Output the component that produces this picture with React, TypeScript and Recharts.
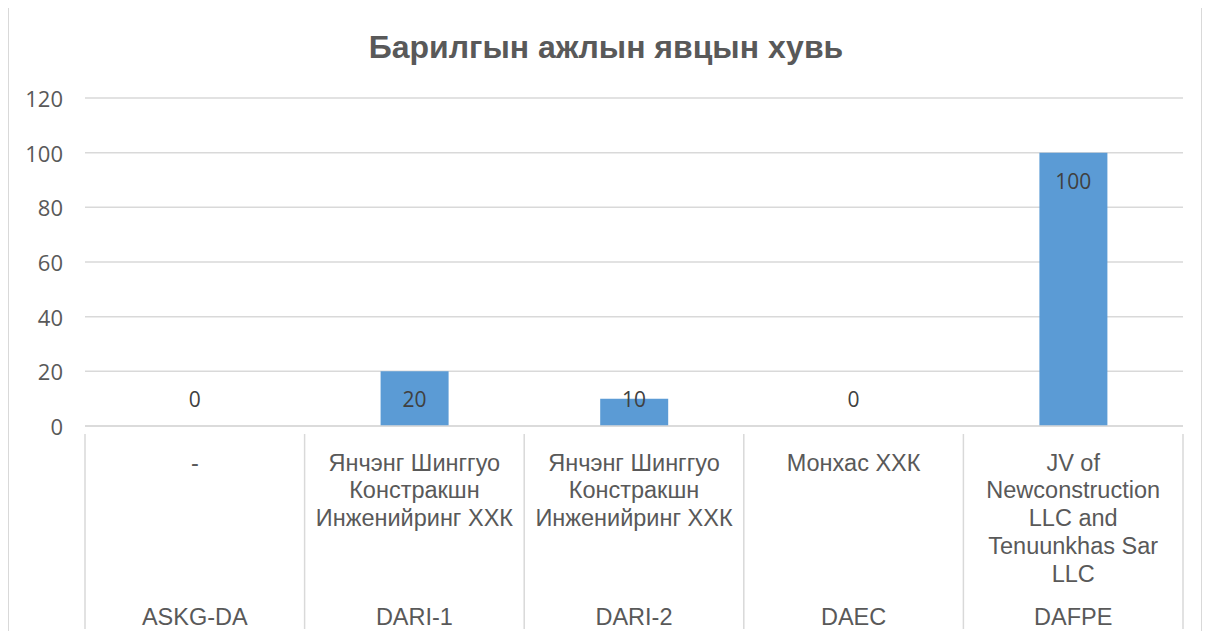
import { ComposedChart, Bar, Line, XAxis, YAxis, CartesianGrid, LabelList } from "recharts";

const codes = ["ASKG-DA", "DARI-1", "DARI-2", "DAEC", "DAFPE"];
const contractors = [
    ["-"],
    ["Янчэнг Шинггуо", "Констракшн", "Инженийринг ХХК"],
    ["Янчэнг Шинггуо", "Констракшн", "Инженийринг ХХК"],
    ["Монхас ХХК"],
    ["JV of", "Newconstruction", "LLC and", "Tenuunkhas Sar", "LLC"],
];
const progress = [0, 20, 10, 0, 100];
const yTicks = [0, 20, 40, 60, 80, 100, 120];

const title = "Барилгын ажлын явцын хувь";

const W = 1194;
const H = 625;
const PLOT_LEFT = 76;
const PLOT_RIGHT = 20;
const PLOT_TOP = 91;
const AXIS_H = 206;
const AXIS_Y = H - AXIS_H;
const BAND = (W - PLOT_LEFT - PLOT_RIGHT) / codes.length;

const data = codes.map((code, i) => ({
    code,
    value: progress[i],
}));

const FONT = "Liberation Sans, Arial, sans-serif";
const NUM_FONT = "Open Sans, sans-serif";

function CategoryTick(props: any) {
    const { x, y, payload } = props;
    const i = payload.index;
    const lines = contractors[i];
    return (
        <g>
            <line x1={x - BAND / 2} y1={y} x2={x - BAND / 2} y2={y + 195} stroke="#d9d9d9" strokeWidth={1.5} />
            {i === codes.length - 1 && (
                <line x1={x + BAND / 2} y1={y} x2={x + BAND / 2} y2={y + 195} stroke="#d9d9d9" strokeWidth={1.5} />
            )}
            {lines.map((t, k) => (
                <text key={k} x={x} y={y + 36.5 + k * 27.8} textAnchor="middle" fill="#595959" fontSize={23.5} fontFamily={FONT}>
                    {t}
                </text>
            ))}
            <text x={x} y={y + 190.5} textAnchor="middle" fill="#595959" fontSize={23.5} fontFamily={FONT}>
                {codes[i]}
            </text>
        </g>
    );
}

function ValueTick(props: any) {
    const { y, payload } = props;
    return (
        <text x={54} y={y} textAnchor="end" dominantBaseline="central" fill="#595959" fontSize={22} fontFamily={NUM_FONT}>
            {payload.value}
        </text>
    );
}

function ValueLabel(props: any) {
    const { x, y, value } = props;
    const cy = Math.min(y + 28, AXIS_Y - 27);
    return (
        <text x={x} y={cy} textAnchor="middle" dominantBaseline="central" fill="#404040" fontSize={21} fontFamily={NUM_FONT}>
            {value}
        </text>
    );
}

export default function App() {
    return (
        <div
            style={{
                position: "relative",
                width: W,
                height: H,
                marginTop: -2,
                borderLeft: "1.5px solid #d9d9d9",
                borderTop: "1.5px solid #d9d9d9",
                borderRight: "1.5px solid #d9d9d9",
                boxSizing: "border-box",
            }}
        >
            <div
                style={{
                    position: "absolute",
                    left: 0,
                    width: W,
                    top: 21,
                    textAlign: "center",
                    fontFamily: FONT,
                    fontWeight: 700,
                    fontSize: 32,
                    lineHeight: "38px",
                    color: "#595959",
                }}
            >
                {title}
            </div>
            <div style={{ position: "absolute", left: 0, top: 0 }}>
                <ComposedChart
                    width={W}
                    height={H}
                    data={data}
                    margin={{ top: PLOT_TOP, right: PLOT_RIGHT, bottom: 0, left: 0 }}
                >
                    <CartesianGrid vertical={false} stroke="#d9d9d9" strokeWidth={1.5} />
                    <XAxis
                        dataKey="code"
                        height={AXIS_H}
                        interval={0}
                        axisLine={{ stroke: "#d9d9d9", strokeWidth: 1.5 }}
                        tickLine={false}
                        tick={<CategoryTick />}
                    />
                    <YAxis
                        width={PLOT_LEFT}
                        domain={[0, 120]}
                        ticks={yTicks}
                        axisLine={false}
                        tickLine={false}
                        tick={<ValueTick />}
                    />
                    <Bar dataKey="value" fill="#5b9bd5" barSize={68} isAnimationActive={false} />
                    <Line
                        dataKey="value"
                        stroke="none"
                        dot={false}
                        activeDot={false}
                        legendType="none"
                        isAnimationActive={false}
                    >
                        <LabelList dataKey="value" content={<ValueLabel />} />
                    </Line>
                </ComposedChart>
            </div>
        </div>
    );
}
